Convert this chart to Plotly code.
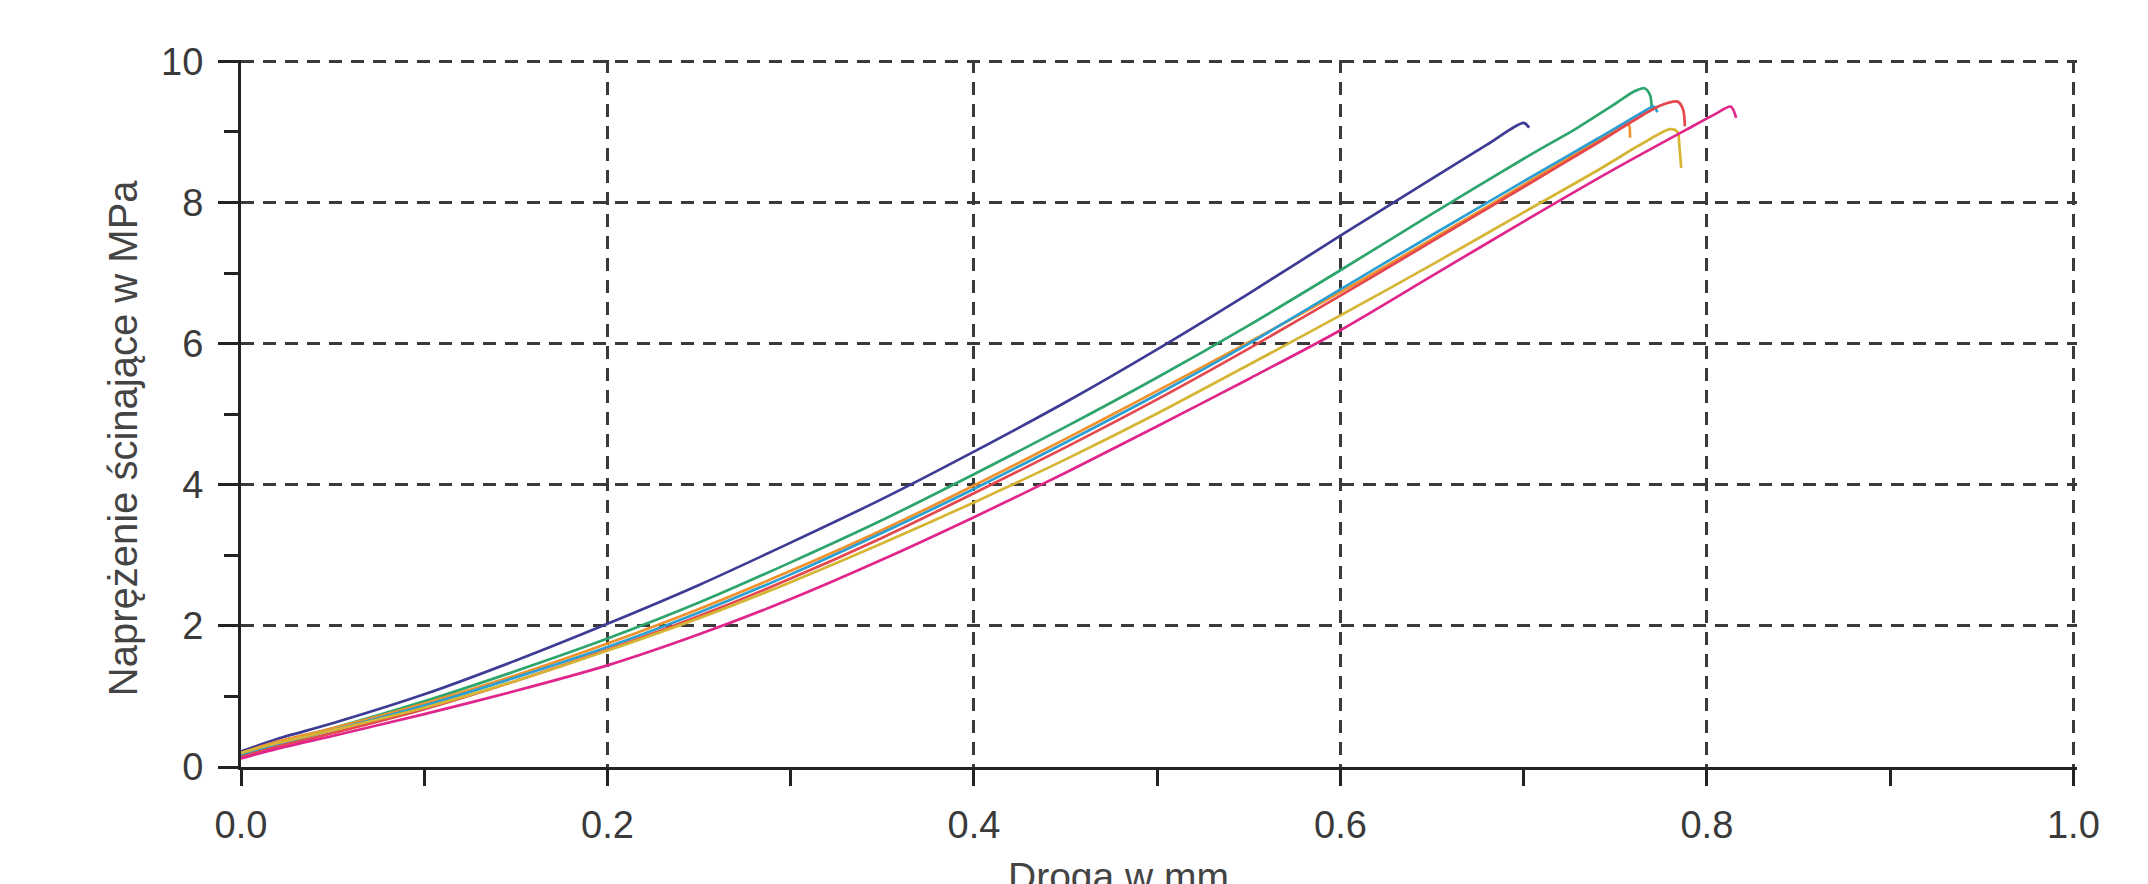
import plotly.graph_objects as go

# Droga w mm (x) and Naprężenie ścinające w MPa (y) for seven specimens
x_navy = [0, 0.02, 0.05, 0.1, 0.15, 0.2, 0.25, 0.3, 0.35, 0.4, 0.45, 0.5, 0.55, 0.6, 0.65, 0.68, 0.7, 0.703]
y_navy = [0.22, 0.40, 0.62, 1.03, 1.51, 2.03, 2.58, 3.18, 3.80, 4.47, 5.17, 5.92, 6.71, 7.53, 8.34, 8.82, 9.13, 9.06]

x_green = [0, 0.02, 0.05, 0.1, 0.15, 0.2, 0.25, 0.3, 0.35, 0.4, 0.45, 0.5, 0.55, 0.6, 0.65, 0.7, 0.73, 0.75, 0.76, 0.766, 0.769, 0.770]
y_green = [0.18, 0.35, 0.55, 0.93, 1.36, 1.82, 2.33, 2.90, 3.50, 4.15, 4.82, 5.52, 6.26, 7.04, 7.84, 8.62, 9.07, 9.40, 9.57, 9.62, 9.52, 9.30]

x_orange = [0, 0.02, 0.05, 0.1, 0.15, 0.2, 0.25, 0.3, 0.35, 0.4, 0.45, 0.5, 0.55, 0.6, 0.65, 0.7, 0.74, 0.757, 0.758]
y_orange = [0.20, 0.36, 0.55, 0.90, 1.30, 1.75, 2.24, 2.78, 3.36, 3.99, 4.65, 5.33, 6.02, 6.73, 7.48, 8.25, 8.87, 9.12, 8.92]

x_cyan = [0, 0.02, 0.05, 0.1, 0.15, 0.2, 0.25, 0.3, 0.35, 0.4, 0.45, 0.5, 0.55, 0.6, 0.65, 0.7, 0.74, 0.765, 0.771, 0.773]
y_cyan = [0.16, 0.32, 0.52, 0.87, 1.27, 1.70, 2.19, 2.73, 3.32, 3.94, 4.60, 5.28, 6.00, 6.77, 7.54, 8.30, 8.90, 9.28, 9.36, 9.28]

x_red = [0, 0.02, 0.05, 0.1, 0.15, 0.2, 0.25, 0.3, 0.35, 0.4, 0.45, 0.5, 0.55, 0.6, 0.65, 0.7, 0.74, 0.765, 0.775, 0.784, 0.787, 0.788]
y_red = [0.14, 0.29, 0.48, 0.82, 1.22, 1.66, 2.14, 2.67, 3.25, 3.88, 4.53, 5.21, 5.93, 6.68, 7.45, 8.22, 8.84, 9.24, 9.38, 9.43, 9.32, 9.08]

x_yellow = [0, 0.02, 0.05, 0.1, 0.15, 0.2, 0.25, 0.3, 0.35, 0.4, 0.45, 0.5, 0.55, 0.6, 0.65, 0.7, 0.74, 0.765, 0.78, 0.784, 0.785, 0.786]
y_yellow = [0.20, 0.34, 0.52, 0.84, 1.22, 1.65, 2.11, 2.62, 3.17, 3.75, 4.36, 5.01, 5.70, 6.40, 7.12, 7.86, 8.45, 8.84, 9.04, 9.00, 8.80, 8.49]

x_magenta = [0, 0.02, 0.05, 0.1, 0.15, 0.2, 0.25, 0.3, 0.35, 0.4, 0.45, 0.5, 0.55, 0.6, 0.65, 0.7, 0.75, 0.79, 0.805, 0.813, 0.816]
y_magenta = [0.12, 0.26, 0.44, 0.75, 1.08, 1.44, 1.88, 2.38, 2.94, 3.54, 4.17, 4.83, 5.50, 6.19, 6.96, 7.73, 8.48, 9.05, 9.26, 9.36, 9.20]

x_ticks = [0.0, 0.2, 0.4, 0.6, 0.8, 1.0]
x_ticklabels = ["0.0", "0.2", "0.4", "0.6", "0.8", "1.0"]
y_ticks = [0, 2, 4, 6, 8, 10]
y_ticklabels = ["0", "2", "4", "6", "8", "10"]

x_title = "Droga w mm"
y_title = "Naprężenie ścinające w MPa"

series = [
    (x_navy, y_navy, "#3d3b94"),
    (x_green, y_green, "#2ea56c"),
    (x_orange, y_orange, "#f0922c"),
    (x_cyan, y_cyan, "#2b9fd2"),
    (x_red, y_red, "#e4474c"),
    (x_yellow, y_yellow, "#d5b533"),
    (x_magenta, y_magenta, "#e0268c"),
]

FONT = "Liberation Sans, Arial, sans-serif"
AX = "#222222"
GRID = "#3a3a3a"
X_RANGE = [0, 1.002]
Y_RANGE = [0, 10.02]

fig = go.Figure()
for xs, ys, col in series:
    fig.add_trace(go.Scatter(x=xs, y=ys, mode="lines",
                             line=dict(color=col, width=2.7, shape="spline", smoothing=0.8),
                             showlegend=False, hoverinfo="skip"))

fig.update_layout(
    width=2148, height=884,
    margin=dict(l=233, r=79, t=52, b=125),
    paper_bgcolor="white", plot_bgcolor="white",
    showlegend=False,
    font=dict(family=FONT, color="#3a3a3a", size=38),
    xaxis=dict(
        range=X_RANGE, tickmode="array", tickvals=x_ticks, ticktext=x_ticklabels,
        ticks="outside", ticklen=16, tickwidth=2.5, tickcolor=AX,
        minor=dict(dtick=0.1, ticks="outside", ticklen=16, tickwidth=2.5, tickcolor=AX, showgrid=False),
        showline=True, linecolor=AX, linewidth=3,
        showgrid=True, gridcolor=GRID, gridwidth=2.5, griddash="13px,9px",
        zeroline=False, tickfont=dict(size=38, color="#3a3a3a", family=FONT),
        ticklabelstandoff=6,
    ),
    yaxis=dict(
        range=Y_RANGE, tickmode="array", tickvals=y_ticks, ticktext=y_ticklabels,
        ticks="outside", ticklen=20, tickwidth=2.5, tickcolor=AX,
        minor=dict(dtick=1, ticks="outside", ticklen=14, tickwidth=2.5, tickcolor=AX, showgrid=False),
        showline=True, linecolor=AX, linewidth=3,
        showgrid=True, gridcolor=GRID, gridwidth=2.5, griddash="13px,9px",
        zeroline=False, tickfont=dict(size=38, color="#3a3a3a", family=FONT),
        ticklabelstandoff=7,
    ),
    xaxis2=dict(
        overlaying="x", anchor="y", side="bottom", range=X_RANGE,
        tickmode="array", tickvals=x_ticks, ticks="inside", ticklen=16, tickwidth=2.5, tickcolor=AX,
        minor=dict(dtick=0.1, ticks="inside", ticklen=16, tickwidth=2.5, tickcolor=AX, showgrid=False),
        showticklabels=False, showgrid=False, zeroline=False, showline=False,
    ),
    yaxis2=dict(
        overlaying="y", anchor="x", side="left", range=Y_RANGE,
        tickmode="array", tickvals=y_ticks, ticks="inside", ticklen=20, tickwidth=2.5, tickcolor=AX,
        minor=dict(dtick=1, ticks="inside", ticklen=12, tickwidth=2.5, tickcolor=AX, showgrid=False),
        showticklabels=False, showgrid=False, zeroline=False, showline=False,
    ),
)

fig.add_annotation(text=y_title, textangle=-90, xref="paper", yref="paper",
                   x=0, y=0.465, xshift=-118, xanchor="center", yanchor="middle",
                   showarrow=False, font=dict(family=FONT, size=40, color="#444444"))
fig.add_annotation(text=x_title, xref="paper", yref="paper",
                   x=0.478, y=0, yshift=-86, xanchor="center", yanchor="top",
                   showarrow=False, font=dict(family=FONT, size=39, color="#444444"))

fig.write_html("out.html")
